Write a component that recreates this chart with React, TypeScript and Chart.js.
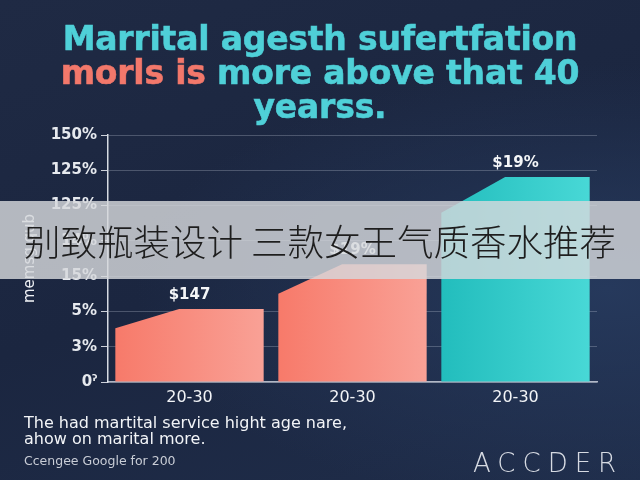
import React, { useEffect, useRef } from "react";
import { Chart, registerables } from "chart.js";

Chart.register(...registerables);

const categories = ["20-30", "20-30", "20-30"];
const barValues = [2.07, 3.34, 5.81];
const barLeftValues = [1.52, 2.5, 4.8];
const barLabels = ["$147", "$19%", "$19%"];
const yTickLabels = ["0\u02C0", "3%", "5%", "15%", "14%", "125%", "125%", "150%"];
const yAxisTitle = "memsg.qub";
const titleLine1 = "Marrital agesth sufertfation";
const titleLine2Red = "morls is";
const titleLine2Rest = " more above that 40";
const titleLine3 = "yearss.";
const bannerText = "别致瓶装设计 三款女王气质香水推荐";
const footLine1 = "The had martital service hight age nare,";
const footLine2 = "ahow on marital more.";
const sourceText = "Ccengee Google for 200";
const brandText = "ACCDER";

const barColors: [string, string][] = [
  ["#f77a6a", "#f9a196"],
  ["#f77a6a", "#f9a196"],
  ["#22bdbd", "#48d8d6"],
];

const slantPlugin = {
  id: "slantBars",
  beforeDatasetDraw(chart: any, args: any) {
    if (args.index !== 0) return;
    const { ctx } = chart;
    const yScale = chart.scales.y;
    const meta = args.meta;
    ctx.save();
    meta.data.forEach((bar: any, i: number) => {
      const { x, y, base, width } = bar.getProps(["x", "y", "base", "width"], true);
      const left = x - width / 2;
      const right = x + width / 2;
      const leftY = yScale.getPixelForValue(barLeftValues[i]);
      const g = ctx.createLinearGradient(left, 0, right, 0);
      g.addColorStop(0, barColors[i][0]);
      g.addColorStop(1, barColors[i][1]);
      ctx.fillStyle = g;
      ctx.beginPath();
      ctx.moveTo(left, base);
      ctx.lineTo(left, leftY);
      ctx.lineTo(left + width * 0.43, y);
      ctx.lineTo(right, y);
      ctx.lineTo(right, base);
      ctx.closePath();
      ctx.fill();
    });
    ctx.restore();
    return false;
  },
  afterDatasetsDraw(chart: any) {
    const { ctx } = chart;
    const meta = chart.getDatasetMeta(0);
    ctx.save();
    ctx.fillStyle = "#f4f6f8";
    ctx.font = "bold 15px 'DejaVu Sans'";
    ctx.textAlign = "center";
    ctx.textBaseline = "middle";
    meta.data.forEach((bar: any, i: number) => {
      ctx.fillText(barLabels[i], bar.x, bar.y - 14);
    });
    ctx.restore();
  },
};

export default function App() {
  const ref = useRef<HTMLCanvasElement | null>(null);
  useEffect(() => {
    if (!ref.current) return;
    const chart = new Chart(ref.current, {
      type: "bar",
      data: {
        labels: categories,
        datasets: [
          {
            data: barValues,
            backgroundColor: "#f77a6a",
            barPercentage: 0.91,
            categoryPercentage: 1,
          },
        ],
      },
      plugins: [slantPlugin],
      options: {
        responsive: false,
        animation: false,
        layout: { padding: { top: 135, right: 43, bottom: 70, left: 0 } },
        plugins: { legend: { display: false }, tooltip: { enabled: false } },
        scales: {
          x: {
            grid: { display: false, drawTicks: false },
            border: { display: true, color: "rgba(225,230,238,0.75)", width: 1.5 },
            ticks: {
              color: "#f2f4f7",
              font: { family: "'DejaVu Sans'", size: 16 },
              padding: 6,
            },
            afterFit: (s: any) => {
              s.height = 28;
            },
          },
          y: {
            min: 0,
            max: 7,
            afterBuildTicks: (s: any) => {
              s.ticks = yTickLabels.map((_, i) => ({ value: i }));
            },
            ticks: {
              color: "#e6e9ee",
              font: { family: "'DejaVu Sans'", size: 15, weight: "bold" },
              padding: 4,
              callback: (v: any) => yTickLabels[v as number] ?? "",
            },
            grid: {
              color: "rgba(200,208,222,0.28)",
              tickColor: "rgba(235,238,244,0.85)",
              tickLength: 7,
              lineWidth: 1,
            },
            border: { display: true, color: "rgba(235,238,244,0.9)", width: 1.5 },
            title: {
              display: true,
              text: yAxisTitle,
              color: "#eef0f4",
              font: { family: "'DejaVu Sans'", size: 15 },
              padding: { top: 21, bottom: 0 },
            },
            afterFit: (s: any) => {
              s.width = 108;
            },
          },
        },
      },
    } as any);
    return () => chart.destroy();
  }, []);

  const titleStyle: React.CSSProperties = {
    position: "absolute",
    left: 0,
    top: 22,
    width: 640,
    textAlign: "center",
    fontFamily: "'DejaVu Sans'",
    fontWeight: "bold",
    fontSize: 33,
    lineHeight: "34px",
    color: "#4fd0d8",
    letterSpacing: -0.2,
    WebkitTextStroke: "0.6px currentColor",
    whiteSpace: "nowrap",
  };

  return (
    <div
      style={{
        position: "fixed",
        left: 0,
        top: 0,
        width: 640,
        height: 480,
        overflow: "hidden",
        background:
          "radial-gradient(ellipse at 95% 60%, #26395c 0%, rgba(38,57,92,0) 55%), linear-gradient(160deg, #1f2a44 0%, #1b2640 50%, #1f2d4a 100%)",
      }}
    >
      <canvas ref={ref} width={640} height={480} style={{ position: "absolute", left: 0, top: 0 }} />
      <div style={titleStyle}>
        <div>{titleLine1}</div>
        <div>
          <span style={{ color: "#f2786b" }}>{titleLine2Red}</span>
          {titleLine2Rest}
        </div>
        <div>{titleLine3}</div>
      </div>
      <div
        style={{
          position: "absolute",
          left: 0,
          top: 201,
          width: 640,
          height: 78,
          background: "rgba(214,216,220,0.82)",
          display: "flex",
          alignItems: "center",
          justifyContent: "center",
          fontFamily: "'Noto Sans CJK SC'",
          fontWeight: 300,
          fontSize: 36.5,
          color: "#1e1e1e",
          whiteSpace: "nowrap",
        }}
      >
        {bannerText}
      </div>
      <div
        style={{
          position: "absolute",
          left: 24,
          top: 415,
          fontFamily: "'DejaVu Sans'",
          fontSize: 16,
          lineHeight: "16px",
          color: "#f2f4f7",
          whiteSpace: "nowrap",
        }}
      >
        <div>{footLine1}</div>
        <div>{footLine2}</div>
      </div>
      <div
        style={{
          position: "absolute",
          left: 24,
          top: 453,
          fontFamily: "'DejaVu Sans'",
          fontSize: 12.5,
          color: "#c9cdd6",
          whiteSpace: "nowrap",
        }}
      >
        {sourceText}
      </div>
      <div
        style={{
          position: "absolute",
          left: 473,
          top: 448,
          fontFamily: "'DejaVu Sans'",
          fontWeight: 200,
          fontSize: 26,
          letterSpacing: 7,
          color: "#d6dae2",
          whiteSpace: "nowrap",
        }}
      >
        {brandText}
      </div>
    </div>
  );
}
